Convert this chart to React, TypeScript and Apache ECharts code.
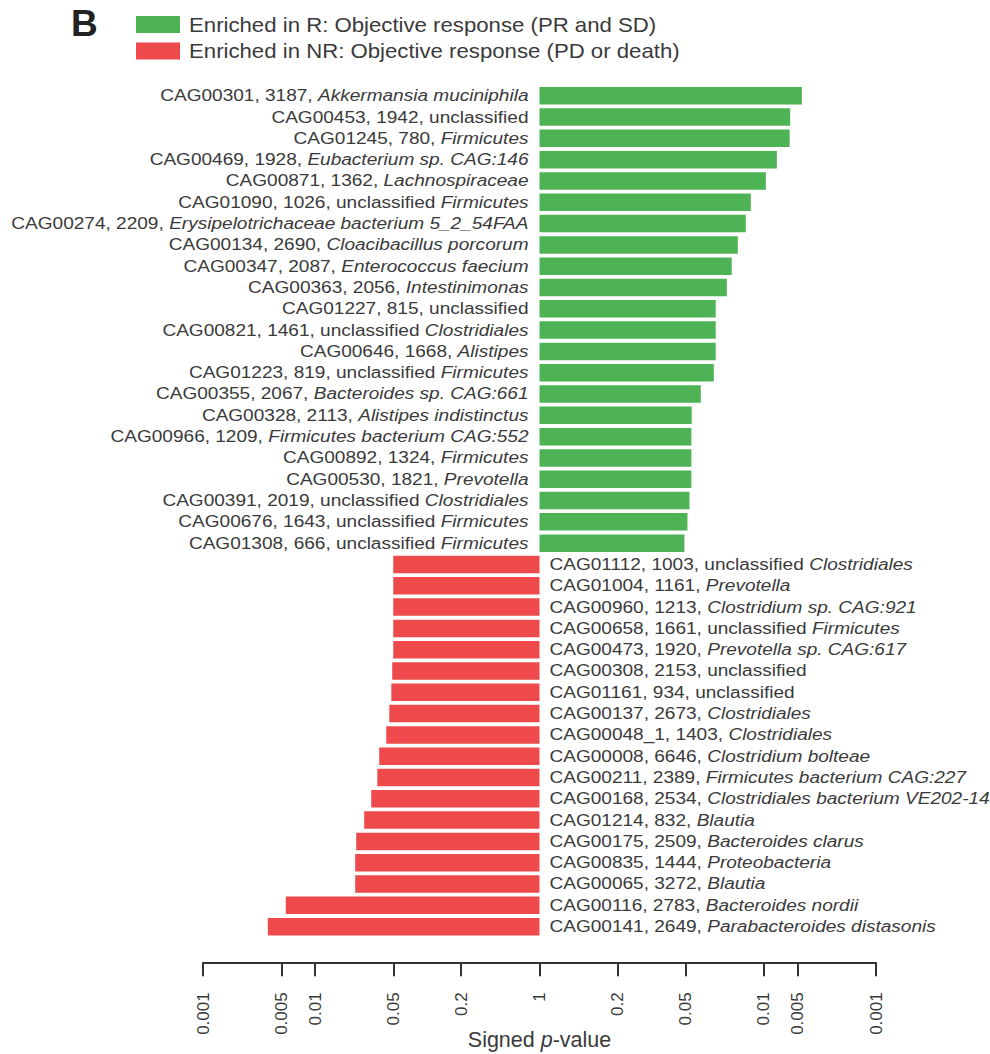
import React, { useEffect, useRef } from "react";
import * as echarts from "echarts";

// ---------- data ----------
const cagIds = [
  "CAG00301", "CAG00453", "CAG01245", "CAG00469", "CAG00871", "CAG01090", "CAG00274", "CAG00134",
  "CAG00347", "CAG00363", "CAG01227", "CAG00821", "CAG00646", "CAG01223", "CAG00355", "CAG00328",
  "CAG00966", "CAG00892", "CAG00530", "CAG00391", "CAG00676", "CAG01308",
  "CAG01112", "CAG01004", "CAG00960", "CAG00658", "CAG00473", "CAG00308", "CAG01161", "CAG00137",
  "CAG00048_1", "CAG00008", "CAG00211", "CAG00168", "CAG01214", "CAG00175", "CAG00835", "CAG00065",
  "CAG00116", "CAG00141",
];
const cagSizes = [
  3187, 1942, 780, 1928, 1362, 1026, 2209, 2690, 2087, 2056, 815, 1461, 1668, 819, 2067, 2113,
  1209, 1324, 1821, 2019, 1643, 666,
  1003, 1161, 1213, 1661, 1920, 2153, 934, 2673, 1403, 6646, 2389, 2534, 832, 2509, 1444, 3272,
  2783, 2649,
];
const taxonPlain = [
  "", "unclassified", "", "", "", "unclassified", "", "", "", "", "unclassified", "unclassified",
  "", "unclassified", "", "", "", "", "", "unclassified", "unclassified", "unclassified",
  "unclassified", "", "", "unclassified", "", "unclassified", "unclassified", "", "", "", "", "",
  "", "", "", "", "", "",
];
const taxonItalic = [
  "Akkermansia muciniphila", "", "Firmicutes", "Eubacterium sp. CAG:146", "Lachnospiraceae",
  "Firmicutes", "Erysipelotrichaceae bacterium 5_2_54FAA", "Cloacibacillus porcorum",
  "Enterococcus faecium", "Intestinimonas", "", "Clostridiales", "Alistipes", "Firmicutes",
  "Bacteroides sp. CAG:661", "Alistipes indistinctus", "Firmicutes bacterium CAG:552", "Firmicutes",
  "Prevotella", "Clostridiales", "Firmicutes", "Firmicutes",
  "Clostridiales", "Prevotella", "Clostridium sp. CAG:921", "Firmicutes", "Prevotella sp. CAG:617",
  "", "", "Clostridiales", "Clostridiales", "Clostridium bolteae", "Firmicutes bacterium CAG:227",
  "Clostridiales bacterium VE202-14", "Blautia", "Bacteroides clarus", "Proteobacteria", "Blautia",
  "Bacteroides nordii", "Parabacteroides distasonis",
];
// signed -log10(p): positive = enriched in R, negative = enriched in NR
const signedLogP = [
  2.339, 2.235, 2.23, 2.116, 2.018, 1.884, 1.839, 1.768, 1.714, 1.67, 1.571, 1.571, 1.571, 1.554,
  1.438, 1.357, 1.354, 1.354, 1.354, 1.337, 1.319, 1.292,
  -1.304, -1.304, -1.304, -1.304, -1.304, -1.313, -1.321, -1.339, -1.366, -1.429, -1.446, -1.5,
  -1.563, -1.634, -1.643, -1.643, -2.262, -2.422,
];
const tickLabels = ["0.001", "0.005", "0.01", "0.05", "0.2", "1", "0.2", "0.05", "0.01", "0.005", "0.001"];
const tickSigns = [-1, -1, -1, -1, -1, 0, 1, 1, 1, 1, 1];
const legendLabels = [
  "Enriched in R: Objective response (PR and SD)",
  "Enriched in NR: Objective response (PD or death)",
];

const GREEN = "#4db354";
const RED = "#ee4a4c";
const TEXT = "#3a3a3a";
const FONT = "'Liberation Sans', Arial, Helvetica, sans-serif";

const tickValues = tickLabels.map((l, i) => (tickSigns[i] === 0 ? 0 : tickSigns[i] * -Math.log10(parseFloat(l))));

function labelRich(i: number): string {
  const plain = taxonPlain[i];
  const ital = taxonItalic[i];
  const sep = plain && ital ? " " : "";
  let s = `{n|${cagIds[i]}, ${cagSizes[i]}, ${plain}${sep}}`;
  if (ital) s += `{i|${ital}}`;
  return s;
}

export default function App() {
  const ref = useRef<HTMLDivElement>(null);
  useEffect(() => {
    if (!ref.current) return;
    const chart = echarts.init(ref.current, undefined, { renderer: "svg" });
    const cats = cagIds.map((c, i) => `${c}_${i}`);
    const option: any = {
      animation: false,
      backgroundColor: "#ffffff",
      grid: {
        left: 203, right: 114, top: 85.1, bottom: 116.7,
        containLabel: false, outerBoundsMode: "none",
      },
      xAxis: {
        type: "value",
        min: -3,
        max: 3,
        position: "bottom",
        offset: 25,
        splitLine: { show: false },
        axisLine: { show: true, onZero: false, lineStyle: { color: "#333333", width: 2 } },
        axisTick: { show: true, customValues: tickValues, length: 14, lineStyle: { color: "#333333", width: 2 } },
        axisLabel: {
          show: true,
          customValues: tickValues,
          rotate: 90,
          margin: 30,
          color: TEXT,
          fontSize: 17,
          fontFamily: FONT,
          formatter: (val: number) => {
            const k = tickValues.findIndex((t) => Math.abs(t - val) < 1e-6);
            return k >= 0 ? tickLabels[k] : "";
          },
        },
        name: "{n|Signed }{i|p}{n|-value}",
        nameLocation: "middle",
        nameGap: 67,
        nameMoveOverlap: false,
        nameTextStyle: {
          rich: {
            n: { fontSize: 21.5, fontFamily: FONT, color: TEXT },
            i: { fontSize: 21.5, fontFamily: FONT, color: TEXT, fontStyle: "italic" },
          },
        },
      },
      yAxis: {
        type: "category",
        inverse: true,
        data: cats,
        axisLine: { show: false },
        axisTick: { show: false },
        axisLabel: { show: false },
        splitLine: { show: false },
      },
      series: [
        {
          type: "bar",
          barWidth: 17.5,
          data: signedLogP.map((v) => ({ value: v, itemStyle: { color: v > 0 ? GREEN : RED } })),
          silent: true,
        },
        {
          type: "custom",
          silent: true,
          clip: false,
          encode: { x: 0, y: 1 },
          data: signedLogP.map((v, i) => [v, i]),
          renderItem: (params: any, api: any) => {
            const v = api.value(0);
            const idx = params.dataIndex;
            const p = api.coord([0, idx]);
            const pos = v > 0;
            return {
              type: "text",
              x: p[0] + (pos ? -11 : 10),
              y: p[1],
              scaleX: 1.19,
              style: {
                text: labelRich(idx),
                align: pos ? "right" : "left",
                verticalAlign: "middle",
                fontSize: 16,
                fontFamily: FONT,
                fill: TEXT,
                rich: {
                  n: { fontSize: 16, fontFamily: FONT, fill: TEXT, color: TEXT },
                  i: { fontSize: 16, fontFamily: FONT, fill: TEXT, color: TEXT, fontStyle: "italic" },
                },
              },
            };
          },
        },
      ],
      graphic: [
        {
          type: "text",
          left: 71,
          top: 5,
          style: { text: "B", fontSize: 37, fontWeight: "bold", fontFamily: FONT, fill: "#222222" },
        },
        { type: "rect", shape: { x: 136, y: 16, width: 44, height: 17 }, style: { fill: GREEN } },
        { type: "rect", shape: { x: 136, y: 42.5, width: 44, height: 17 }, style: { fill: RED } },
        {
          type: "text",
          x: 189,
          y: 24.5,
          scaleX: 1.11,
          style: { text: legendLabels[0], fontSize: 20, fontFamily: FONT, fill: TEXT, verticalAlign: "middle", align: "left" },
        },
        {
          type: "text",
          x: 189,
          y: 51,
          scaleX: 1.11,
          style: { text: legendLabels[1], fontSize: 20, fontFamily: FONT, fill: TEXT, verticalAlign: "middle", align: "left" },
        },
      ],
    };
    chart.setOption(option);
    return () => chart.dispose();
  }, []);
  return <div ref={ref} style={{ position: "absolute", left: 0, top: 0, width: 990, height: 1054 }} />;
}
